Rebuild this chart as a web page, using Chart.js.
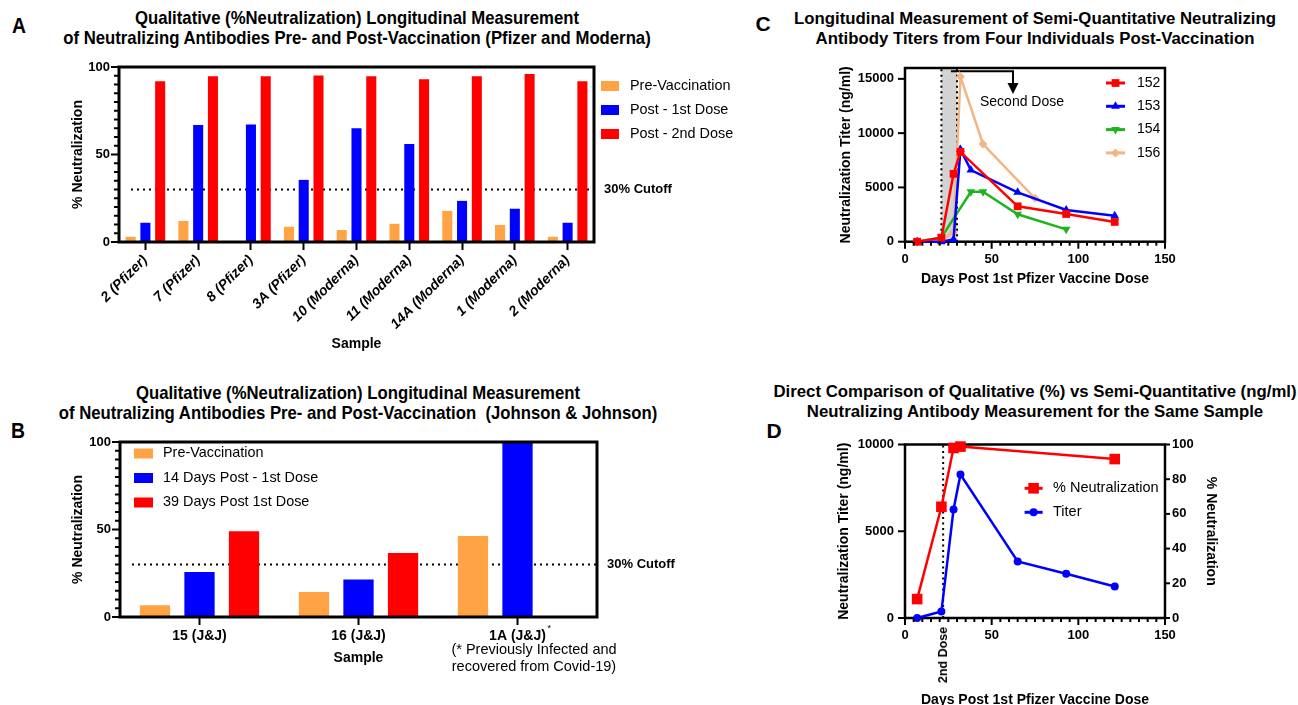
<!DOCTYPE html>
<html>
<head>
<meta charset="utf-8">
<title>Neutralizing antibodies pre- and post-vaccination</title>
<script src="https://cdn.jsdelivr.net/npm/chart.js@4.4.1/dist/chart.umd.min.js"></script>
<style>
  html, body { margin: 0; padding: 0; background: #fff; }
  body { position: relative; width: 1298px; height: 705px; overflow: hidden; color: #000;
         font-family: 'Liberation Sans', Arial, sans-serif; }
  canvas { position: absolute; }
  .lbl { position: absolute; transform: translate(-50%, -50%); white-space: nowrap; text-align: center; }
  .cond { transform: translate(-50%, -50%) scaleX(0.88); }
  .b { font-weight: bold; }
</style>
</head>
<body>
<div class="lbl cond b" style="left:19px;top:26px;font-size:22px">A</div>
<div class="lbl cond b" style="left:357px;top:28px;font-size:19px;line-height:20px">Qualitative (%Neutralization) Longitudinal Measurement<br>of Neutralizing Antibodies Pre- and Post-Vaccination (Pfizer and Moderna)</div>
<div class="lbl cond b" style="left:18px;top:431px;font-size:22px">B</div>
<div class="lbl cond b" style="left:358px;top:403px;font-size:19px;line-height:20px">Qualitative (%Neutralization) Longitudinal Measurement<br>of Neutralizing Antibodies Pre- and Post-Vaccination&nbsp; (Johnson &amp; Johnson)</div>
<div class="lbl b" style="left:763px;top:24px;font-size:21px">C</div>
<div class="lbl b" style="left:1035px;top:29px;font-size:16.8px;line-height:20px">Longitudinal Measurement of Semi-Quantitative Neutralizing<br>Antibody Titers from Four Individuals Post-Vaccination</div>
<div class="lbl b" style="left:774px;top:431px;font-size:21px">D</div>
<div class="lbl b" style="left:1035px;top:402px;font-size:16.8px;line-height:20px">Direct Comparison of Qualitative (%) vs Semi-Quantitative (ng/ml)<br>Neutralizing Antibody Measurement for the Same Sample</div>

<canvas id="chartA" width="760" height="360" style="left:0;top:0"></canvas>
<canvas id="chartB" width="760" height="335" style="left:0;top:370px"></canvas>
<canvas id="chartC" width="538" height="300" style="left:760px;top:0"></canvas>
<canvas id="chartD" width="538" height="345" style="left:760px;top:370px"></canvas>

<div class="lbl" style="left:1022px;top:101px;font-size:14px">Second Dose</div>
<div class="lbl b" style="left:943px;top:655px;font-size:12.5px;transform:translate(-50%,-50%) rotate(-90deg)">2nd Dose</div>
<div class="lbl" style="left:534px;top:658px;font-size:14.5px;line-height:17px">(* Previously Infected and<br>recovered from Covid-19)</div>

<script>
const arial = "'Liberation Sans', Arial, sans-serif";
const orange = '#ffa344';
const blue = '#0000ff';
const red = '#ff0000';
const green = '#1eb41e';
const tan = '#f4b584';

// A: Pfizer / Moderna, % neutralization
const samplesA = ['2 (Pfizer)', '7 (Pfizer)', '8 (Pfizer)', '3A (Pfizer)', '10 (Moderna)', '11 (Moderna)', '14A (Moderna)', '1 (Moderna)', '2 (Moderna)'];
const preA = [3, 12, 0, 8.7, 6.8, 10.4, 17.8, 9.7, 3];
const firstDoseA = [11, 66.8, 67.2, 35.5, 65, 56, 23.5, 19, 11];
const secondDoseA = [91.8, 94.7, 94.7, 95.1, 94.7, 93, 94.7, 96, 91.8];

// B: Johnson & Johnson, % neutralization
const samplesB = ['15 (J&J)', '16 (J&J)', '1A (J&J)'];
const preB = [6.7, 14.3, 46.3];
const day14B = [25.7, 21.5, 100];
const day39B = [49, 36.6, null];

const cutoffPct = 30;
const pctTicks = [0, 50, 100];

// C: titers (ng/ml) by day after 1st dose
const days152 = [7, 21, 28, 32, 65, 93, 121];
const titer152 = [0, 370, 6250, 8270, 3260, 2550, 1820];
const days153 = [7, 21, 28, 32, 38, 65, 93, 121];
const titer153 = [0, 0, 200, 8500, 6600, 4550, 2920, 2400];
const days154 = [7, 21, 38, 45, 65, 93];
const titer154 = [0, 400, 4600, 4600, 2530, 1140];
const days156 = [7, 21, 28, 32, 45, 75];
const titer156 = [0, 150, 900, 15200, 9000, 4000];
const doseWindowC = [21, 30];
const titerTicksC = [0, 5000, 10000, 15000];
const dayTicks = [0, 50, 100, 150];

// D: same sample, titer vs % neutralization
const daysD = [7, 21, 28, 32, 65, 93, 121];
const titerD = [0, 370, 6250, 8270, 3260, 2550, 1820];
const pctDaysD = [7, 21, 28, 32, 121];
const pctD = [10.9, 64.1, 98, 98.8, 91.6];
const doseDayD = 22;
const titerTicksD = [0, 5000, 10000];
const pctTicksD = [0, 20, 40, 60, 80, 100];

const fixedTicks = list => axis => { axis.ticks = list.map(v => ({value: v})); };
const plainLabel = v => String(v);

// plot box around the chart area
function framePlugin(width, under) {
    const draw = chart => {
        const {ctx, chartArea: a} = chart;
        ctx.save();
        ctx.lineWidth = width;
        ctx.strokeStyle = '#000';
        ctx.strokeRect(a.left, a.top, a.right - a.left, a.bottom - a.top);
        ctx.restore();
    };
    return under ? {id: 'frame', beforeDatasetsDraw: draw} : {id: 'frame', afterDatasetsDraw: draw};
}

// major / minor tick marks on linear axes
function tickMarks(list, width) {
    return {
        id: 'tickMarks',
        afterDraw(chart) {
            const ctx = chart.ctx;
            ctx.save();
            ctx.strokeStyle = '#000';
            ctx.lineWidth = width;
            for (const m of list) {
                const s = chart.scales[m.axis];
                for (let v = s.min; v <= s.max + 1e-6; v += m.step) {
                    const major = s.ticks.some(t => Math.abs(t.value - v) < 1e-6);
                    const len = major ? m.len : m.minorLen;
                    if (!len) continue;
                    const p = s.getPixelForValue(v);
                    ctx.beginPath();
                    if (s.position === 'left') { ctx.moveTo(s.right, p); ctx.lineTo(s.right - len, p); }
                    else if (s.position === 'right') { ctx.moveTo(s.left, p); ctx.lineTo(s.left + len, p); }
                    else { ctx.moveTo(p, s.top); ctx.lineTo(p, s.top + len); }
                    ctx.stroke();
                }
            }
            ctx.restore();
        }
    };
}

function cutoffPlugin(value, text) {
    return {
        id: 'cutoff',
        beforeDatasetsDraw(chart) {
            const {ctx, chartArea: a} = chart;
            const y = chart.scales.y.getPixelForValue(value);
            ctx.save();
            ctx.strokeStyle = '#000';
            ctx.lineWidth = 2.2;
            ctx.setLineDash([2, 4]);
            ctx.beginPath();
            ctx.moveTo(a.left + 12, y);
            ctx.lineTo(a.right, y);
            ctx.stroke();
            ctx.restore();
        },
        afterDraw(chart) {
            const {ctx, chartArea: a} = chart;
            const y = chart.scales.y.getPixelForValue(value);
            ctx.save();
            ctx.fillStyle = '#000';
            ctx.font = 'bold 13px ' + arial;
            ctx.textBaseline = 'middle';
            ctx.fillText(text, a.right + 10, y);
            ctx.restore();
        }
    };
}

// legend drawn at fixed canvas spot: swatches or line+marker
function keyPlugin(k) {
    return {
        id: 'key',
        afterDraw(chart) {
            const ctx = chart.ctx;
            ctx.save();
            ctx.textBaseline = 'middle';
            chart.data.datasets.forEach((ds, i) => {
                const y = k.y + i * k.step;
                if (k.kind === 'box') {
                    ctx.fillStyle = ds.backgroundColor;
                    ctx.fillRect(k.x, y - k.h / 2, k.w, k.h);
                } else {
                    ctx.strokeStyle = ds.borderColor;
                    ctx.lineWidth = 3;
                    ctx.beginPath();
                    ctx.moveTo(k.x, y);
                    ctx.lineTo(k.x + k.w, y);
                    ctx.stroke();
                    ctx.fillStyle = ds.borderColor;
                    Chart.helpers.drawPoint(ctx, {pointStyle: ds.pointStyle, rotation: ds.pointRotation, radius: ds.pointRadius, borderWidth: 0}, k.x + k.w / 2, y);
                }
                ctx.fillStyle = '#000';
                ctx.font = k.font;
                ctx.fillText(ds.label, k.x + k.w + k.gap, y);
            });
            ctx.restore();
        }
    };
}

function barChart(id, labels, sets, o) {
    return new Chart(document.getElementById(id), {
        type: 'bar',
        data: {
            labels: labels,
            datasets: sets.map(s => ({label: s[0], data: s[1], backgroundColor: s[2], categoryPercentage: 0.84, barPercentage: 0.68}))
        },
        options: {
            responsive: false, animation: false, devicePixelRatio: 1,
            layout: {padding: o.pad},
            scales: {
                x: {
                    grid: {display: true, drawOnChartArea: false, offset: false, color: '#000', tickLength: 8, tickWidth: 2},
                    border: {display: false},
                    ticks: {autoSkip: false, maxRotation: o.rot, minRotation: o.rot, padding: o.xPad, color: '#000',
                        font: {family: arial, size: o.xSize, weight: 'bold', style: o.xStyle}},
                    title: {display: true, text: 'Sample', color: '#000', font: {family: arial, size: 14, weight: 'bold'}},
                    afterFit: s => { s.height = o.xHeight; }
                },
                y: {
                    min: 0, max: 100,
                    afterBuildTicks: fixedTicks(pctTicks),
                    grid: {display: false, drawTicks: true, tickLength: 8},
                    border: {display: false},
                    ticks: {padding: 1, color: '#000', callback: plainLabel, font: {family: arial, size: 13, weight: 'bold'}},
                    title: {display: true, text: '% Neutralization', color: '#000', font: {family: arial, size: 14, weight: 'bold'}},
                    afterFit: s => { s.width = o.yWidth; }
                }
            },
            plugins: {legend: {display: false}, tooltip: {enabled: false}}
        },
        plugins: [
            cutoffPlugin(cutoffPct, '30% Cutoff'),
            framePlugin(3, false),
            tickMarks([{axis: 'y', step: 5, len: 8, minorLen: 5}], 2),
            keyPlugin(o.key)
        ].concat(o.extra || [])
    });
}

barChart('chartA', samplesA, [
    ['Pre-Vaccination', preA, orange],
    ['Post - 1st Dose', firstDoseA, blue],
    ['Post - 2nd Dose', secondDoseA, red]
], {
    pad: {left: 66, top: 67, right: 166, bottom: 3.6},
    yWidth: 53, xHeight: 114.4, rot: 45, xPad: 2, xSize: 14, xStyle: 'italic',
    key: {kind: 'box', x: 601, y: 86, step: 24, w: 18, h: 10, gap: 11, font: '14.4px ' + arial}
});

// small asterisk after the last J&J sample label
const starPlugin = {
    id: 'star',
    afterDraw(chart) {
        const {ctx, scales: {x}} = chart;
        const i = samplesB.length - 1;
        const px = x.getPixelForValue(i);
        ctx.save();
        ctx.font = 'bold 14px ' + arial;
        const w = ctx.measureText(samplesB[i]).width;
        ctx.font = '9px ' + arial;
        ctx.fillStyle = '#000';
        ctx.textBaseline = 'top';
        ctx.fillText('*', px + w / 2 + 1.5, x.top + 7);
        ctx.restore();
    }
};

barChart('chartB', samplesB, [
    ['Pre-Vaccination', preB, orange],
    ['14 Days Post - 1st Dose', day14B, blue],
    ['39 Days Post 1st Dose', day39B, red]
], {
    pad: {left: 66, top: 72, right: 163, bottom: 34.6},
    yWidth: 54, xHeight: 53.4, rot: 0, xPad: 3, xSize: 14, xStyle: 'normal',
    key: {kind: 'box', x: 134, y: 83.5, step: 24.5, w: 19, h: 10, gap: 10, font: '14.4px ' + arial},
    extra: [starPlugin]
});

function lineSet(label, xs, ys, color, style, rotation, radius, axis) {
    return {
        label: label,
        data: xs.map((d, i) => ({x: d, y: ys[i]})),
        borderColor: color, backgroundColor: color,
        pointBackgroundColor: color, pointBorderColor: color,
        pointStyle: style, pointRotation: rotation, pointRadius: radius, pointBorderWidth: 0,
        borderWidth: 2.5, tension: 0, clip: false, yAxisID: axis || 'y'
    };
}

function dayAxis(height) {
    return {
        type: 'linear', min: 0, max: 150,
        afterBuildTicks: fixedTicks(dayTicks),
        grid: {display: false, drawTicks: true, tickLength: 7},
        border: {display: false},
        ticks: {padding: 3, color: '#000', callback: plainLabel, font: {size: 13, weight: 'bold'}},
        title: {display: true, text: 'Days Post 1st Pfizer Vaccine Dose', color: '#000', font: {size: 14, weight: 'bold'}},
        afterFit: s => { s.height = height; }
    };
}

function titerAxis(max, ticks, width) {
    return {
        min: 0, max: max,
        afterBuildTicks: fixedTicks(ticks),
        grid: {display: false, drawTicks: true, tickLength: 7},
        border: {display: false},
        ticks: {padding: 4, color: '#000', callback: plainLabel, font: {size: 13, weight: 'bold'}},
        title: {display: true, text: 'Neutralization Titer (ng/ml)', color: '#000', font: {size: 14, weight: 'bold'}},
        afterFit: s => { s.width = width; }
    };
}

// gray window between doses, dotted day markers, arrow
function dosePlugin(d) {
    return {
        id: 'dose',
        beforeDatasetsDraw(chart) {
            const {ctx, chartArea: a, scales: {x, y}} = chart;
            ctx.save();
            if (d.shade) {
                const x0 = x.getPixelForValue(d.shade[0]);
                const x1 = x.getPixelForValue(d.shade[1]);
                ctx.fillStyle = '#d3d3d3';
                ctx.fillRect(x0, a.top, x1 - x0, a.bottom - a.top);
            }
            ctx.strokeStyle = '#000';
            ctx.lineWidth = 2;
            ctx.setLineDash([2, 3.5]);
            for (const day of d.lines) {
                const px = x.getPixelForValue(day);
                ctx.beginPath();
                ctx.moveTo(px, a.bottom);
                ctx.lineTo(px, a.top);
                ctx.stroke();
            }
            ctx.setLineDash([]);
            if (d.arrow) {
                const [fromDay, toDay, level, tip] = d.arrow;
                const xa = x.getPixelForValue(fromDay), xb = x.getPixelForValue(toDay);
                const ya = y.getPixelForValue(level), yt = y.getPixelForValue(tip);
                ctx.lineWidth = 2;
                ctx.beginPath();
                ctx.moveTo(xa, ya);
                ctx.lineTo(xb, ya);
                ctx.lineTo(xb, yt - 10);
                ctx.stroke();
                ctx.fillStyle = '#000';
                ctx.beginPath();
                ctx.moveTo(xb - 5.5, yt - 11);
                ctx.lineTo(xb + 5.5, yt - 11);
                ctx.lineTo(xb, yt);
                ctx.closePath();
                ctx.fill();
            }
            ctx.restore();
        }
    };
}

new Chart(document.getElementById('chartC'), {
    type: 'line',
    data: {
        datasets: [
            lineSet('152', days152, titer152, red, 'rect', 0, 5.5),
            lineSet('153', days153, titer153, blue, 'triangle', 0, 5),
            lineSet('154', days154, titer154, green, 'triangle', 180, 5),
            lineSet('156', days156, titer156, tan, 'rectRot', 0, 4.5)
        ]
    },
    options: {
        responsive: false, animation: false, devicePixelRatio: 1,
        layout: {padding: {left: 74, top: 68, right: 133, bottom: 8.6}},
        scales: {x: dayAxis(49.7), y: titerAxis(16000, titerTicksC, 71)},
        plugins: {legend: {display: false}, tooltip: {enabled: false}}
    },
    plugins: [
        dosePlugin({shade: doseWindowC, lines: doseWindowC, arrow: [26.5, 62.3, 15700, 13600]}),
        framePlugin(2.5, true),
        tickMarks([{axis: 'x', step: 5, len: 7, minorLen: 4}, {axis: 'y', step: 5000, len: 7}], 2),
        keyPlugin({kind: 'line', x: 346, y: 83, step: 23.3, w: 19, gap: 12, font: '14px ' + arial})
    ]
});

new Chart(document.getElementById('chartD'), {
    type: 'line',
    data: {
        datasets: [
            lineSet('% Neutralization', pctDaysD, pctD, red, 'rect', 0, 7.5, 'y1'),
            lineSet('Titer', daysD, titerD, blue, 'circle', 0, 4, 'y')
        ]
    },
    options: {
        responsive: false, animation: false, devicePixelRatio: 1,
        layout: {padding: {left: 72, top: 74.5, right: 74.6, bottom: 2.6}},
        scales: {
            x: dayAxis(94.4),
            y: titerAxis(10000, titerTicksD, 73),
            y1: {
                position: 'right', min: 0, max: 100,
                afterBuildTicks: fixedTicks(pctTicksD),
                grid: {display: false, drawTicks: true, tickLength: 4},
                border: {display: false},
                ticks: {padding: 3, color: '#000', callback: plainLabel, font: {size: 13, weight: 'bold'}},
                title: {display: true, text: '% Neutralization', color: '#000', font: {size: 14, weight: 'bold'}},
                afterFit: s => { s.width = 58.4; }
            }
        },
        plugins: {legend: {display: false}, tooltip: {enabled: false}}
    },
    plugins: [
        dosePlugin({lines: [doseDayD]}),
        framePlugin(2.5, true),
        tickMarks([{axis: 'x', step: 5, len: 7, minorLen: 4}, {axis: 'y', step: 5000, len: 7}, {axis: 'y1', step: 20, len: 5}], 2),
        keyPlugin({kind: 'line', x: 264.6, y: 118.3, step: 24, w: 18, gap: 10.4, font: '14.5px ' + arial})
    ]
});
</script>
</body>
</html>
